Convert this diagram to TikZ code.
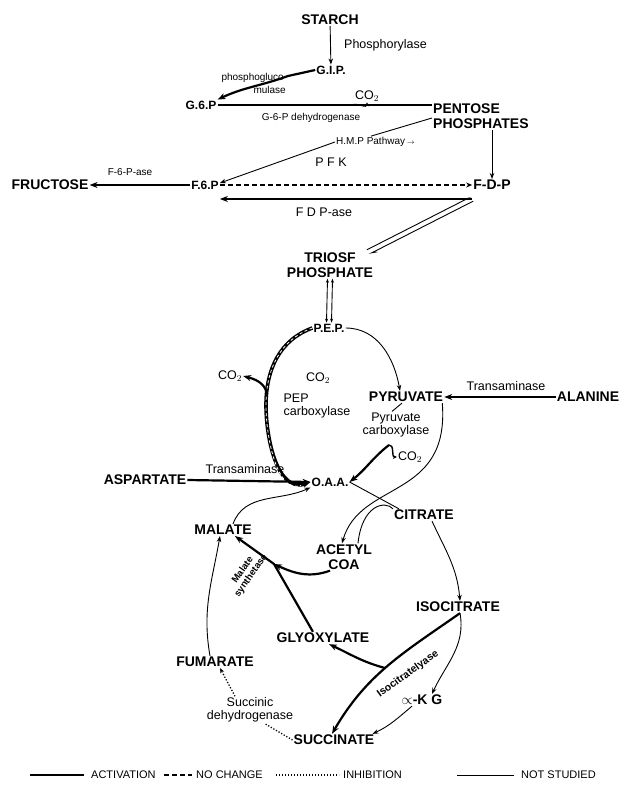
\documentclass[tikz,border=0pt]{standalone}
\usepackage{fontspec}
\setmainfont{Liberation Sans}
\usetikzlibrary{arrows.meta}
\tikzset{
  metab/.style={font=\bfseries\fontsize{14}{15}\selectfont, inner sep=1pt, align=center},
  metabsm/.style={font=\bfseries\fontsize{12}{13}\selectfont, inner sep=1pt},
  enzyme/.style={font=\fontsize{12.5}{13.5}\selectfont, inner sep=1pt, align=center},
  enzsm/.style={font=\fontsize{10}{10.5}\selectfont, inner sep=1pt, align=center},
  legendtext/.style={font=\fontsize{11}{12}\selectfont, inner sep=1pt, anchor=west},
  activation/.style={line width=2.2pt, -{Stealth[length=8pt,width=6pt]}},
  nochange/.style={line width=1.1pt, dash pattern=on 5pt off 3pt},
  inhibition/.style={line width=1.3pt, dash pattern=on 1.2pt off 1.8pt},
  notstudied/.style={line width=0.9pt, -{Stealth[length=6pt,width=4.5pt]}},
}
\begin{document}
\begin{tikzpicture}[x=1pt,y=-1pt]
\useasboundingbox (0,0) rectangle (623,791);
% upper part: starch to triose phosphate
\node[metab] (starch) at (330,20) {STARCH};
\node[enzyme,anchor=west] (phos) at (343,45) {Phosphorylase};
\node[metabsm] (gip) at (331,70) {G.I.P.};
\node[enzsm,anchor=east] (pgm1) at (285,78) {phosphogluco};
\node[enzsm,anchor=east] (pgm2) at (287,90) {mulase};
\node[metabsm] (g6p) at (201,105) {G.6.P};
\node[enzyme] (co2a) at (367,96) {CO$_2$};
\node[metab,align=left,anchor=west] (pentose) at (432,116) {PENTOSE\\PHOSPHATES};
\node[enzsm] (g6pdh) at (311,118) {G-6-P dehydrogenase};
\node[enzsm,anchor=west] (hmp) at (335,142) {H.M.P Pathway$\,\scriptstyle\rightarrow$};
\node[enzyme] (pfk) at (331,162) {P F K};
\node[enzsm] (f6pase) at (130,172) {F-6-P-ase};
\node[metab] (fructose) at (50,185) {FRUCTOSE};
\node[metabsm] (f6p) at (205,185) {F.6.P};
\node[metab] (fdp) at (492,185) {F-D-P};
\node[enzyme] (fdpase) at (324,212) {F D P-ase};
\node[metab] (triose) at (330,265) {TRIOSF\\PHOSPHATE};

\draw[notstudied] (starch) -- (gip);
\draw[activation] (gip.west) -- (288,76) to[out=200,in=25] (g6p.north east);
\draw[activation,-,line width=1.6pt] (g6p.east) -- (g6p.east -| pentose.west);
\coordinate (co2br) at (352,105);
\draw[line width=1.3pt,-{Stealth[length=4pt,width=4pt]}] (co2br) to[out=20,in=-90] (co2a.south);
\draw[notstudied,-] ([yshift=-2pt]pentose.west) -- ([xshift=36pt]hmp.north west);
\draw[notstudied] (hmp.west) -- ([yshift=2pt]f6p.east);
\draw[notstudied] (fdp |- pentose.south) -- (fdp.north);
\draw[activation] (f6p.west) -- (fructose.east);
\draw[nochange,-{Stealth[length=6pt,width=5pt]}] (f6p.east) -- (fdp.west);
\coordinate (fdpc) at (472,199);
\coordinate (trin) at (368,252);
\draw[activation] (fdpc) -- (fdpc -| f6p.east);
\draw[notstudied,-{Stealth[harpoon,length=7pt,width=4pt]}] ([xshift=1.1pt,yshift=-2.2pt]fdpc) -- ([xshift=1.1pt,yshift=-2.2pt]trin);
\draw[notstudied,-{Stealth[harpoon,length=7pt,width=4pt]}] ([xshift=-1.1pt,yshift=2.2pt]trin) -- ([xshift=-1.1pt,yshift=2.2pt]fdpc);

% PEP, pyruvate and OAA
\node[metabsm] (pep) at (329,328) {P.E.P.};
\node[enzyme] (co2b) at (230,376) {CO$_2$};
\node[enzyme] (co2c) at (318,378) {CO$_2$};
\node[enzyme,align=left] (pepc) at (317,406) {PEP\\carboxylase};
\node[metab] (pyr) at (406,397) {PYRUVATE};
\node[enzyme] (trans1) at (506,386) {Transaminase};
\node[metab] (ala) at (588,397) {ALANINE};
\node[enzyme] (pyrc) at (396,425) {Pyruvate\\carboxylase};
\node[enzyme] (co2d) at (410,457) {CO$_2$};
\node[metabsm] (oaa) at (330,482) {O.A.A.};
\node[metab] (asp) at (145,480) {ASPARTATE};
\node[enzyme] (trans2) at (245,469) {Transaminase};

\draw[notstudied,{Stealth[length=4pt,width=3pt]}-{Stealth[length=4pt,width=3pt]}] ([xshift=-2.5pt]triose.south) -- ([xshift=-2.5pt]pep.north);
\draw[notstudied,{Stealth[length=4pt,width=3pt]}-{Stealth[length=4pt,width=3pt]}] ([xshift=2.5pt]triose.south) -- ([xshift=2.5pt]pep.north);
\coordinate (pepcl) at (266,405);
\draw[activation,line width=3.6pt,postaction={draw=white,line width=0.8pt,dash pattern=on 3pt off 2.5pt,shorten >=10pt,-}] (pep.west) to[out=200,in=90] (pepcl) to[out=-90,in=200] (oaa.west);
\coordinate (pepcbr) at (267,394);
\draw[activation] (pepcbr) to[out=100,in=-15] (co2b.east);
\draw[notstudied] (pep.east) to[out=0,in=100] ([xshift=-6pt]pyr.north);
\draw[activation] (ala.west) -- (pyr.east);
\draw[notstudied,-] ([xshift=-4pt]pyr.south) -- ([xshift=-4pt]pyrc.north);
\coordinate (pcbr) at (389,445);
\draw[activation] (pcbr) to[out=218,in=38] (oaa.east);
\draw[line width=1.4pt,-{Stealth[length=4pt,width=4pt]}] (pcbr) to[out=10,in=180] (co2d.west);
\draw[activation] (asp.east) -- (oaa.west);

% TCA and glyoxylate cycle
\node[metab] (cit) at (424,515) {CITRATE};
\node[metab] (malate) at (223,530) {MALATE};
\node[metab] (acoa) at (344,557) {ACETYL\\COA};
\node[metab] (isocit) at (458,607) {ISOCITRATE};
\node[metab] (glyox) at (323,638) {GLYOXYLATE};
\node[metab] (fum) at (215,662) {FUMARATE};
\node[metab] (akg) at (422,700) {$\propto$-K G};
\node[enzyme] (sdh) at (250,710) {Succinic\\dehydrogenase};
\node[metab] (succ) at (334,740) {SUCCINATE};
\node[enzsm,font=\bfseries\fontsize{9.5}{10}\selectfont,rotate=55] (mals) at (247,573) {Malate\\synthetase};
\node[enzsm,font=\bfseries\fontsize{10.5}{11}\selectfont,rotate=36] (icl) at (408,674) {Isocitratelyase};

\draw[notstudied] ([xshift=-2pt]pyr.south east) .. controls (450,500) and (360,480) .. ([xshift=-2pt]acoa.north);
\draw[notstudied,-] ([xshift=14pt]acoa.north) .. controls (362,505) and (385,500) .. (cit.north west);
\draw[notstudied,-] (oaa.east) -- ([xshift=6pt]cit.north west);
\draw[notstudied] ([xshift=8pt]cit.south) to[out=-65,in=95] ([xshift=2pt]isocit.north);
\draw[notstudied] ([xshift=2pt]isocit.south) to[out=-80,in=65] ([xshift=10pt]akg.north);
\draw[notstudied] ([xshift=-10pt]akg.south) to[out=220,in=25] ([xshift=-3pt]succ.north east);
\draw[activation] ([xshift=2pt]isocit.south) to[out=215,in=60] ([xshift=-2pt]succ.north);
\coordinate (lyj) at (385,668);
\draw[activation] (lyj) to[out=165,in=-25] ([xshift=6pt]glyox.south);
\draw[inhibition] (succ.west) -- ([xshift=15pt]sdh.south);
\draw[inhibition,-{Stealth[length=5pt,width=4pt]}] ([xshift=-15pt]sdh.north) -- ([xshift=5pt]fum.south);
\draw[notstudied] ([xshift=-5pt]fum.north) to[out=100,in=-100] ([xshift=-3pt]malate.south);
\draw[notstudied] ([xshift=10pt]malate.north) to[out=70,in=205] (oaa.south west);
\coordinate (msj) at (274,564);
\draw[activation] ([xshift=-10pt]glyox.north) -- (msj) -- ([xshift=12pt]malate.south);
\draw[activation] ([xshift=-14pt]acoa.south) to[out=200,in=-25] (msj);

% legend
\node[legendtext] (legact) at (90,775) {ACTIVATION};
\node[legendtext] (legnc) at (195,775) {NO CHANGE};
\node[legendtext] (leginh) at (342,775) {INHIBITION};
\node[legendtext] (legns) at (520,775) {NOT STUDIED};
\coordinate (la) at (30,775);
\coordinate (lb) at (164,775);
\coordinate (lc) at (276,775);
\coordinate (ld) at (457,775);
\draw[activation,-] (la) -- ([xshift=-6pt]legact.west);
\draw[nochange] (lb) -- ([xshift=-3pt]legnc.west);
\draw[inhibition] (lc) -- ([xshift=-3pt]leginh.west);
\draw[notstudied,-] (ld) -- ([xshift=-6pt]legns.west);
\end{tikzpicture}
\end{document}
